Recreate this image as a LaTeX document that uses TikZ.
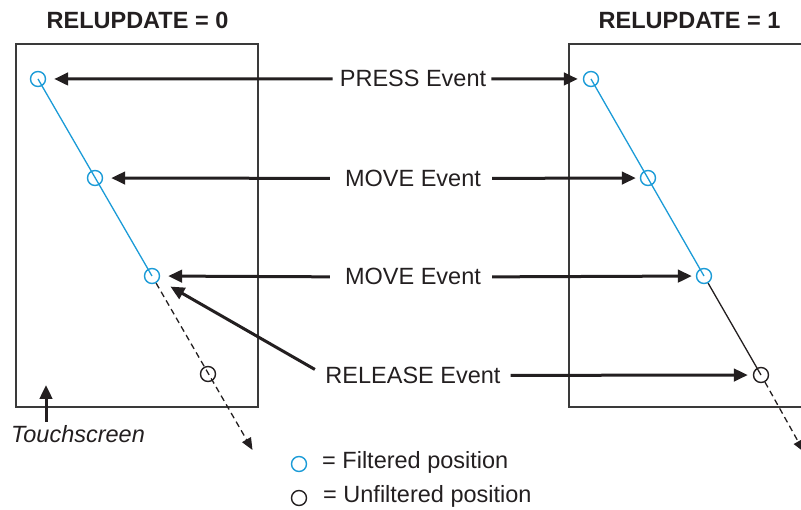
\documentclass[tikz,border=0pt]{standalone}
\usepackage{fontspec}
\setmainfont{Liberation Sans}
\usetikzlibrary{arrows.meta}
\definecolor{fblue}{HTML}{1B9BD7}
\definecolor{ink}{HTML}{231F20}
\definecolor{boxgray}{HTML}{3A3A3A}
\begin{document}
\begin{tikzpicture}[x=1pt,y=-1pt,
  every node/.style={font=\fontsize{23.5}{28}\selectfont, text=ink},
  titlelbl/.style={anchor=base, font=\fontsize{23.5}{28}\selectfont\bfseries, inner sep=0pt},
  evt/.style={anchor=base, inner sep=0pt},
  legendtxt/.style={anchor=base west, inner sep=0pt},
  fpos/.style={circle, draw=fblue, line width=1.4pt, minimum size=15pt, inner sep=0pt},
  upos/.style={circle, draw=ink, line width=1.4pt, minimum size=15pt, inner sep=0pt},
  screenbox/.style={draw=boxgray, line width=1.6pt},
  fline/.style={draw=fblue, line width=1.3pt},
  uline/.style={draw=ink, line width=1.3pt},
  dline/.style={draw=ink, line width=1.3pt, dash pattern=on 6pt off 4pt, -{Triangle[length=12pt,width=10pt]}},
  earrow/.style={draw=ink, line width=3pt, -{Triangle[length=14pt,width=12.5pt]}}
]
\useasboundingbox (0,0) rectangle (801,510);

% titles
\node[titlelbl] (t0) at (137.5,29) {RELUPDATE = 0};
\node[titlelbl] (t1) at (689.5,29) {RELUPDATE = 1};

% touchscreens
\draw[screenbox] (16,44) rectangle (258,407);
\draw[screenbox] (815,44) -- (569,44) -- (569,407) -- (815,407);

% left positions
\node[fpos] (a1) at (38,79) {};
\node[fpos] (a2) at (95,178) {};
\node[fpos] (a3) at (152,276) {};
\node[upos] (a4) at (208,374) {};
\coordinate (a5) at (252.5,450);

% right positions
\node[fpos] (b1) at (591,79) {};
\node[fpos] (b2) at (648,178) {};
\node[fpos] (b3) at (704,276) {};
\node[upos] (b4) at (761,375) {};
\coordinate (b5) at (804,452);

% trajectories
\draw[fline] (a1.center) -- (a3.center);
\draw[dline] (a3) -- (a5);
\draw[fline] (b1.center) -- (b3.center);
\draw[uline] (b3) -- (b4.center);
\draw[dline] (b4) -- (b5);

% events
\node[evt] (e1) at (413,87) {PRESS Event};
\node[evt] (e2) at (413,186.5) {MOVE Event};
\node[evt] (e3) at (413,285) {MOVE Event};
\node[evt] (e4) at (413,383.5) {RELEASE Event};

\draw[earrow, shorten <=7pt, shorten >=8pt] (e1.west) -- (a1);
\draw[earrow, shorten <=5pt, shorten >=5pt] (e1.east) -- (b1);
\draw[earrow, shorten <=15pt, shorten >=8pt] (e2.west) -- (a2);
\draw[earrow, shorten <=11pt, shorten >=4pt] (e2.east) -- (b2);
\draw[earrow, shorten <=15pt, shorten >=8pt] (e3.west) -- (a3);
\draw[earrow, shorten <=11pt, shorten >=4pt] (e3.east) -- (b3);
\draw[earrow, shorten <=12pt, shorten >=13pt] (e4.west) -- (a3);
\draw[earrow, shorten <=10pt, shorten >=5pt] (e4.east) -- (b4);

% touchscreen label
\node[evt, font=\fontsize{23.5}{28}\selectfont\itshape] (ts) at (78,443) {Touchscreen};
\coordinate (tstip) at (46,385);
\draw[earrow, shorten <=4pt] (tstip |- ts.north) -- (tstip);

% legend
\node[fpos] (l1) at (299,464) {};
\node[legendtxt] (l1t) at (322,469) {= Filtered position};
\node[upos] (l2) at (299,498) {};
\node[legendtxt] (l2t) at (323,503) {= Unfiltered position};
\end{tikzpicture}
\end{document}
